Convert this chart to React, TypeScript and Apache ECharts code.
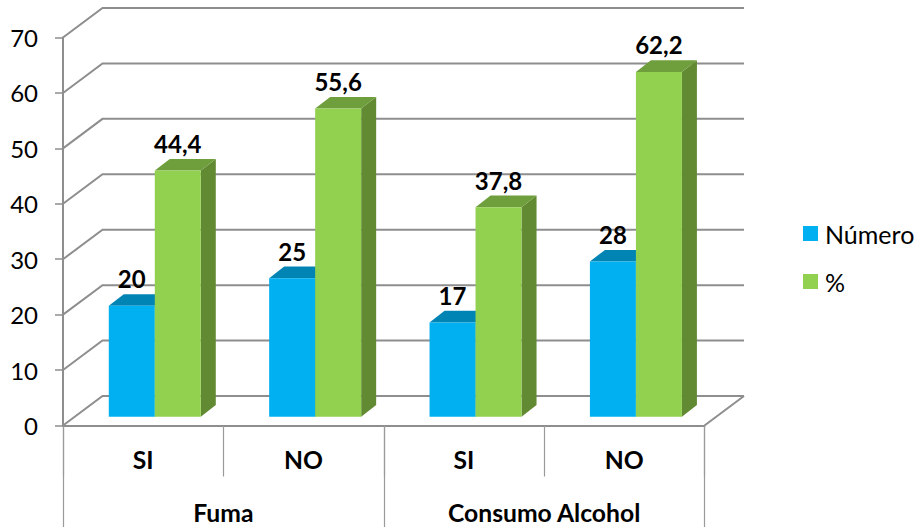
import React, { useEffect, useRef } from "react";
import * as echarts from "echarts";

const categories = ["SI", "NO", "SI", "NO"];
const groups = ["Fuma", "Consumo Alcohol"];
const numero = [20, 25, 17, 28];
const porcentaje = [44.4, 55.6, 37.8, 62.2];
const ticks = [0, 10, 20, 30, 40, 50, 60, 70];

const FONT = "Lato, 'Open Sans', sans-serif";
const LINE = "#8e8e8e";

// Oblique offset of the back wall relative to the front plane.
const WALL_DX = 39.5;
const WALL_DY = 29.5;
// Where the bars stand on the floor, and their own depth.
const FLOOR_DY = 8.8;
const FLOOR_DX = 11.6;
const BAR_W = 46;
const DEPTH_DX = 15;
const DEPTH_DY = 11.6;

function wallRenderer(params: any, api: any) {
  const y = api.coord([0, api.value(1)])[1];
  const cs = params.coordSys;
  const left = cs.x;
  const right = cs.x + cs.width;
  const children: any[] = [
    {
      type: "polyline",
      shape: {
        points: [
          [left, y],
          [left + WALL_DX, y - WALL_DY],
          [right + WALL_DX, y - WALL_DY],
        ],
      },
      style: { stroke: LINE, lineWidth: 2, fill: "none" },
    },
  ];
  if (api.value(1) === 0) {
    children.push({
      type: "line",
      shape: { x1: right, y1: y, x2: right + WALL_DX, y2: y - WALL_DY },
      style: { stroke: LINE, lineWidth: 2 },
    });
  }
  return { type: "group", children };
}

function barRenderer(offset: number, front: string, top: string, side: string, digits: number) {
  return (_params: any, api: any) => {
    const value = api.value(1);
    const base = api.coord([api.value(0), 0]);
    const head = api.coord([api.value(0), value]);
    const x0 = base[0] + FLOOR_DX + offset;
    const x1 = x0 + BAR_W;
    const y0 = base[1] - FLOOR_DY;
    const y1 = head[1] - FLOOR_DY;
    const text = digits ? value.toFixed(digits).replace(".", ",") : String(value);
    return {
      type: "group",
      children: [
        {
          type: "polygon",
          shape: { points: [[x1, y0], [x1 + DEPTH_DX, y0 - DEPTH_DY], [x1 + DEPTH_DX, y1 - DEPTH_DY], [x1, y1]] },
          style: { fill: side },
        },
        {
          type: "polygon",
          shape: { points: [[x0, y1], [x0 + DEPTH_DX, y1 - DEPTH_DY], [x1 + DEPTH_DX, y1 - DEPTH_DY], [x1, y1]] },
          style: { fill: top },
        },
        {
          type: "rect",
          shape: { x: x0, y: y1, width: BAR_W, height: y0 - y1 },
          style: { fill: front },
        },
        {
          type: "text",
          z2: 100,
          style: {
            x: (x0 + x1) / 2,
            y: y1 - 27,
            text,
            fill: "#000",
            font: `bold 24px ${FONT}`,
            textAlign: "center",
            verticalAlign: "middle",
          },
        },
      ],
    };
  };
}

export default function App() {
  const ref = useRef<HTMLDivElement>(null);

  useEffect(() => {
    const chart = echarts.init(ref.current!, null, { renderer: "svg" });
    chart.setOption({
      animation: false,
      backgroundColor: "#fff",
      grid: { left: 63, top: 37.5, width: 641.5, height: 388 },
      legend: {
        data: ["Número", "%"],
        orient: "vertical",
        left: 803,
        top: 221,
        padding: 0,
        itemWidth: 15,
        itemHeight: 15,
        itemGap: 23,
        icon: "rect",
        textStyle: { fontFamily: FONT, fontSize: 25, color: "#000", padding: [0, 0, 0, 2] },
      },
      xAxis: [
        {
          type: "category",
          data: categories,
          position: "bottom",
          axisLine: { show: true, onZero: false, lineStyle: { color: LINE, width: 2 } },
          axisTick: { show: true, length: 51, lineStyle: { color: "#9a9a9a", width: 1.2 } },
          axisLabel: { margin: 21, fontFamily: FONT, fontSize: 24.7, fontWeight: "bold", color: "#000" },
        },
        {
          type: "category",
          data: groups,
          position: "bottom",
          axisLine: { show: false },
          axisTick: { show: true, length: 102, lineStyle: { color: "#9a9a9a", width: 1.2 } },
          axisLabel: { margin: 74, fontFamily: FONT, fontSize: 24.7, fontWeight: "bold", color: "#000" },
        },
      ],
      yAxis: {
        type: "value",
        min: 0,
        max: 70,
        interval: 10,
        splitLine: { show: false },
        axisLine: { show: true, lineStyle: { color: LINE, width: 2 } },
        axisTick: { show: true, length: 8, lineStyle: { color: LINE, width: 1.5 } },
        axisLabel: { margin: 25, fontFamily: FONT, fontSize: 24, color: "#000" },
      },
      series: [
        {
          type: "custom",
          name: "wall",
          silent: true,
          clip: false,
          z: 1,
          data: ticks.map((t) => [0, t]),
          renderItem: wallRenderer,
        },
        {
          type: "custom",
          name: "Número",
          clip: false,
          z: 2,
          itemStyle: { color: "#00B0F0" },
          data: numero.map((v, i) => [i, v]),
          renderItem: barRenderer(-BAR_W, "#00B0F0", "#0084B4", "#0084B4", 0),
        },
        {
          type: "custom",
          name: "%",
          clip: false,
          z: 3,
          itemStyle: { color: "#92D050" },
          data: porcentaje.map((v, i) => [i, v]),
          renderItem: barRenderer(0, "#92D050", "#6F9E3C", "#628A32", 1),
        },
      ],
    });
    return () => chart.dispose();
  }, []);

  return (
    <div
      ref={ref}
      style={{ position: "absolute", left: 0, top: 0, width: 916, height: 527 }}
    />
  );
}
